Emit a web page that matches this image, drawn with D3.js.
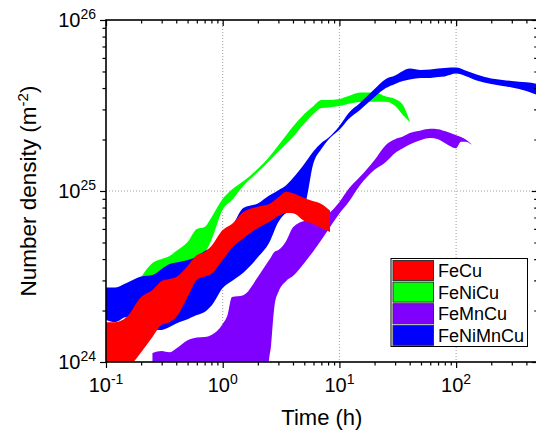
<!DOCTYPE html>
<html>
<head>
<meta charset="utf-8">
<script src="https://cdn.jsdelivr.net/npm/d3@7"></script>
<style>
    body { margin: 0; background: #fff; }
    text { font-family: "Liberation Sans", Arial, sans-serif; fill: #000; }
</style>
</head>
<body>
<svg id="chart"></svg>
<script>
// axis ticks
var xMajor = [0.1, 1, 10, 100];
var xMajorExp = ["-1", "0", "1", "2"];
var yMajor = [1e24, 1e25, 1e26];
var yMajorExp = ["24", "25", "26"];
var xGrid = [1, 10, 100];
var yGrid = [1e25];

var seriesNames = ["FeCu", "FeNiCu", "FeMnCu", "FeNiMnCu"];
var seriesColors = ["#ff0000", "#00ff00", "#8000ff", "#0000ff"];

// FeCu band
var fecuT = [0.1, 0.12, 0.15, 0.2, 0.25, 0.3, 0.35, 0.4, 0.5, 0.6, 0.7, 0.8, 1, 1.2, 1.5, 2, 2.5, 3, 3.5, 4, 5, 6, 7, 8.3];
var fecuHi = [1.71e24, 1.71e24, 1.83e24, 2.40e24, 2.64e24, 2.98e24, 3.06e24, 3.14e24, 3.64e24, 4.22e24, 4.40e24, 4.77e24, 5.91e24, 6.41e24, 7.54e24, 8.1e24, 8.4e24, 9.2e24, 9.9e24, 9.7e24, 9.1e24, 8.7e24, 8.4e24, 7.7e24];
var fecuLo = [7.3e23, 8.1e23, 9.0e23, 1.14e24, 1.40e24, 1.65e24, 1.71e24, 1.83e24, 2.40e24, 3.02e24, 3.16e24, 3.27e24, 3.95e24, 4.64e24, 5.28e24, 6.08e24, 6.59e24, 7.14e24, 7.44e24, 7.4e24, 6.68e24, 6.41e24, 6.08e24, 5.75e24];

// FeNiCu band
var fenicuT = [0.2, 0.25, 0.3, 0.35, 0.4, 0.5, 0.6, 0.7, 0.8, 1, 1.2, 1.5, 2, 2.5, 3, 3.5, 4, 5, 6, 7, 8, 10, 12, 15, 20, 25, 30, 35, 40];
var fenicuHi = [3.14e24, 3.79e24, 4.0e24, 4.17e24, 4.46e24, 5.03e24, 6.0e24, 6.16e24, 7.0e24, 9.0e24, 1.02e25, 1.14e25, 1.35e25, 1.58e25, 1.85e25, 2.12e25, 2.38e25, 2.82e25, 3.14e25, 3.40e25, 3.40e25, 3.45e25, 3.59e25, 3.77e25, 3.77e25, 3.57e25, 3.45e25, 3.18e25, 2.57e25];
var fenicuLo = [3.02e24, 3.02e24, 3.27e24, 3.55e24, 3.64e24, 3.74e24, 4.0e24, 4.34e24, 5.17e24, 7.8e24, 8.86e24, 1.07e25, 1.29e25, 1.50e25, 1.70e25, 1.89e25, 2.07e25, 2.48e25, 2.83e25, 3.06e25, 3.08e25, 3.14e25, 3.24e25, 3.32e25, 3.33e25, 3.33e25, 3.15e25, 2.78e25, 2.53e25];

// FeMnCu band
var femncuT = [0.25, 0.3, 0.35, 0.4, 0.5, 0.6, 0.7, 0.8, 1, 1.1, 1.2, 1.5, 2, 2.4, 2.5, 2.6, 2.7, 2.8, 3, 3.5, 4, 5, 6, 7, 8, 10, 12, 15, 20, 25, 30, 35, 40, 50, 60, 70, 80, 100, 110, 120, 135];
var femncuHi = [1.13e24, 1.16e24, 1.14e24, 1.20e24, 1.34e24, 1.39e24, 1.40e24, 1.44e24, 1.67e24, 1.88e24, 2.40e24, 2.46e24, 3.14e24, 3.79e24, 3.95e24, 4.11e24, 4.31e24, 4.43e24, 4.52e24, 5.10e24, 6.13e24, 6.68e24, 6.77e24, 6.95e24, 7.33e24, 8.62e24, 1.03e25, 1.21e25, 1.52e25, 1.86e25, 2.01e25, 2.08e25, 2.18e25, 2.26e25, 2.31e25, 2.30e25, 2.24e25, 2.12e25, 2.07e25, 2.01e25, 1.88e25];
var femncuLo = [8e23, 8e23, 8e23, 8e23, 8e23, 8e23, 8e23, 8e23, 8e23, 8e23, 8e23, 8e23, 8e23, 8e23, 1.05e24, 1.26e24, 1.76e24, 2.21e24, 2.57e24, 2.98e24, 3.18e24, 3.79e24, 4.46e24, 5.17e24, 5.91e24, 7.38e24, 8.62e24, 1.08e25, 1.33e25, 1.48e25, 1.67e25, 1.78e25, 1.87e25, 1.99e25, 2.04e25, 2.01e25, 1.91e25, 1.78e25, 1.94e25, 1.94e25, 1.87e25];

// FeNiMnCu band
var fenimncuT = [0.1, 0.12, 0.15, 0.2, 0.25, 0.3, 0.35, 0.4, 0.5, 0.6, 0.7, 0.8, 1, 1.2, 1.5, 2, 2.5, 3, 3.5, 4, 5, 6, 7, 8, 10, 12, 15, 20, 25, 30, 35, 40, 50, 60, 70, 80, 100, 120, 150, 200, 250, 300, 400, 500];
var fenimncuHi = [2.73e24, 2.73e24, 2.90e24, 3.16e24, 3.23e24, 3.50e24, 3.74e24, 3.82e24, 3.95e24, 4.14e24, 4.46e24, 4.64e24, 5.6e24, 6.24e24, 7.96e24, 8.45e24, 9.4e24, 1.01e25, 1.08e25, 1.19e25, 1.44e25, 1.71e25, 1.91e25, 2.04e25, 2.40e25, 2.86e25, 3.27e25, 3.95e25, 4.52e25, 4.73e25, 5.04e25, 5.2e25, 5.1e25, 5.13e25, 5.2e25, 5.24e25, 5.27e25, 5.07e25, 4.8e25, 4.55e25, 4.46e25, 4.4e25, 4.32e25, 4.23e25];
var fenimncuLo = [1.76e24, 1.71e24, 1.83e24, 1.62e24, 1.54e24, 1.54e24, 1.60e24, 1.68e24, 1.78e24, 1.88e24, 1.96e24, 2.13e24, 2.71e24, 2.98e24, 3.33e24, 4.1e24, 4.99e24, 6.59e24, 7.44e24, 7.64e24, 8.28e24, 1.46e25, 1.76e25, 1.99e25, 2.28e25, 2.64e25, 2.98e25, 3.55e25, 4.0e25, 4.23e25, 4.4e25, 4.49e25, 4.58e25, 4.58e25, 4.64e25, 4.68e25, 4.86e25, 4.71e25, 4.43e25, 4.23e25, 4.11e25, 4.03e25, 3.85e25, 3.64e25];

function init() {
    var w = 536;
    var h = 433;
    var left = 106, top = 20, right = 537.7, bottom = 362;

    var svg = d3.select("#chart")
        .attr("width", w)
        .attr("height", h);

    var xScale = d3.scaleLog()
        .domain([0.1, 500])
        .range([left, right]);

    var yScale = d3.scaleLog()
        .domain([1e24, 1e26])
        .range([bottom, top]);

    // minor ticks 2..9 in every decade
    var xMinor = [];
    [0.1, 1, 10, 100].forEach(function (d) {
        for (var k = 2; k <= 9; k++) {
            if (d * k <= 500) xMinor.push(d * k);
        }
    });
    var yMinor = [];
    [1e24, 1e25].forEach(function (d) {
        for (var k = 2; k <= 9; k++) yMinor.push(d * k);
    });

    svg.append("clipPath")
        .attr("id", "plotClip")
        .append("rect")
        .attr("x", left)
        .attr("y", top)
        .attr("width", right - left)
        .attr("height", bottom - top);

    // dotted grid
    var grid = svg.append("g")
        .attr("stroke", "#a0a0a0")
        .attr("stroke-width", 1)
        .attr("stroke-dasharray", "1,2");
    grid.selectAll(".gx")
        .data(xGrid)
        .enter()
        .append("line")
        .attr("x1", function (d) { return xScale(d); })
        .attr("x2", function (d) { return xScale(d); })
        .attr("y1", top)
        .attr("y2", bottom);
    grid.selectAll(".gy")
        .data(yGrid)
        .enter()
        .append("line")
        .attr("x1", left)
        .attr("x2", right)
        .attr("y1", function (d) { return yScale(d); })
        .attr("y2", function (d) { return yScale(d); });

    var area = d3.area()
        .x(function (d) { return xScale(d.t); })
        .y0(function (d) { return yScale(d.lo); })
        .y1(function (d) { return yScale(d.hi); })
        .curve(d3.curveMonotoneX);

    function rows(t, lo, hi) {
        return t.map(function (v, i) {
            return { t: v, lo: lo[i], hi: hi[i] };
        });
    }

    // draw order: green, purple, blue, red on top
    var bands = [
        { data: rows(fenicuT, fenicuLo, fenicuHi), color: seriesColors[1] },
        { data: rows(femncuT, femncuLo, femncuHi), color: seriesColors[2] },
        { data: rows(fenimncuT, fenimncuLo, fenimncuHi), color: seriesColors[3] },
        { data: rows(fecuT, fecuLo, fecuHi), color: seriesColors[0] }
    ];

    svg.append("g")
        .attr("clip-path", "url(#plotClip)")
        .selectAll("path")
        .data(bands)
        .enter()
        .append("path")
        .attr("d", function (d) { return area(d.data); })
        .attr("fill", function (d) { return d.color; })
        .attr("stroke", "none");

    // ticks
    function tickAxis(axis, values, size, transform) {
        var g = svg.append("g")
            .attr("transform", transform)
            .call(axis.tickValues(values).tickSize(size).tickSizeOuter(0).tickFormat(""));
        g.select(".domain").remove();
        g.selectAll(".tick line").attr("stroke", "#000").attr("stroke-width", 1.2);
        return g;
    }
    tickAxis(d3.axisBottom(xScale), xMajor, 6, "translate(0," + bottom + ")");
    tickAxis(d3.axisBottom(xScale), xMinor, 3.5, "translate(0," + bottom + ")");
    tickAxis(d3.axisTop(xScale), xMajor, -6, "translate(0," + top + ")");
    tickAxis(d3.axisTop(xScale), xMinor, -3.5, "translate(0," + top + ")");
    tickAxis(d3.axisLeft(yScale), yMajor, 6, "translate(" + left + ",0)");
    tickAxis(d3.axisLeft(yScale), yMinor, 3.5, "translate(" + left + ",0)");
    tickAxis(d3.axisRight(yScale), yMajor, -6, "translate(" + right + ",0)");
    tickAxis(d3.axisRight(yScale), yMinor, -3.5, "translate(" + right + ",0)");

    // frame
    svg.append("rect")
        .attr("x", left)
        .attr("y", top)
        .attr("width", right - left)
        .attr("height", bottom - top)
        .attr("fill", "none")
        .attr("stroke", "#000")
        .attr("stroke-width", 1.6);

    // tick labels with superscripts
    function powLabel(sel, exp) {
        sel.append("tspan").text("10");
        sel.append("tspan")
            .attr("dy", -8)
            .attr("font-size", 14)
            .text(exp);
    }

    xMajor.forEach(function (v, i) {
        var t = svg.append("text")
            .attr("x", xScale(v))
            .attr("y", bottom + 30)
            .attr("text-anchor", "middle")
            .attr("font-size", 20);
        powLabel(t, xMajorExp[i]);
    });

    yMajor.forEach(function (v, i) {
        var t = svg.append("text")
            .attr("x", 96)
            .attr("y", yScale(v) + 7)
            .attr("text-anchor", "end")
            .attr("font-size", 20);
        powLabel(t, yMajorExp[i]);
    });

    // axis titles
    svg.append("text")
        .attr("x", (left + right) / 2)
        .attr("y", 425)
        .attr("text-anchor", "middle")
        .attr("font-size", 22)
        .text("Time (h)");

    var yt = svg.append("text")
        .attr("transform", "translate(36," + ((top + bottom) / 2) + ") rotate(-90)")
        .attr("text-anchor", "middle")
        .attr("font-size", 22.5);
    yt.append("tspan").text("Number density (m");
    yt.append("tspan").attr("dy", -8).attr("font-size", 15).text("-2");
    yt.append("tspan").attr("dy", 8).text(")");

    // legend
    var legend = svg.append("g").attr("transform", "translate(391,258.5)");
    legend.append("rect")
        .attr("width", 136.5)
        .attr("height", 88)
        .attr("fill", "#fff")
        .attr("stroke", "#000")
        .attr("stroke-width", 1);
    var item = legend.selectAll(".item")
        .data(seriesNames)
        .enter()
        .append("g")
        .attr("transform", function (d, i) { return "translate(0," + (2 + i * 21.6) + ")"; });
    item.append("rect")
        .attr("x", 2)
        .attr("width", 40.5)
        .attr("height", 20)
        .attr("fill", function (d, i) { return seriesColors[i]; })
        .attr("stroke", "#333")
        .attr("stroke-width", 1);
    item.append("text")
        .attr("x", 47)
        .attr("y", 16.5)
        .attr("font-size", 18)
        .text(function (d) { return d; });
}
window.onload = init;
</script>
</body>
</html>
